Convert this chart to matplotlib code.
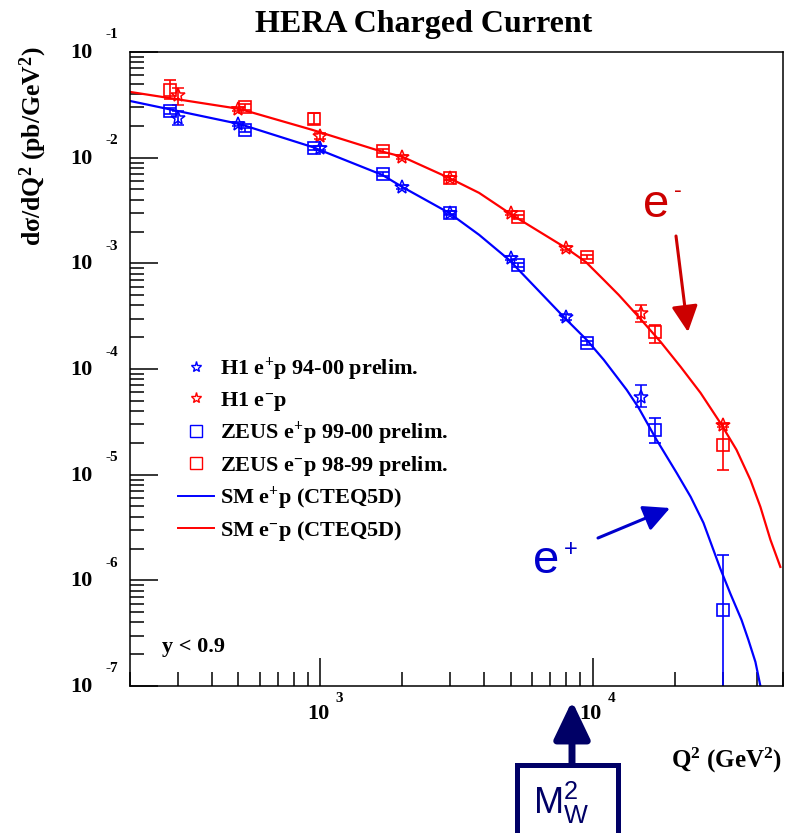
import numpy as np
import matplotlib
matplotlib.use('Agg')
import matplotlib.pyplot as plt
from matplotlib.lines import Line2D
from matplotlib.patches import Rectangle

plt.rcParams['mathtext.fontset'] = 'custom'
plt.rcParams['mathtext.rm'] = 'Liberation Serif:bold'
plt.rcParams['mathtext.it'] = 'Liberation Serif:bold'
plt.rcParams['mathtext.bf'] = 'Liberation Serif:bold'
plt.rcParams['mathtext.sf'] = 'Liberation Sans'

# SM predictions (CTEQ5D)
q2_sm_pos = [200, 506, 936, 1690, 2000, 2970, 3830, 4930, 7830, 9520, 10990, 13340,
             14760, 17180, 20340, 22900, 25520, 29430, 32060, 35200, 37300, 39600,
             41300, 42400]
sm_pos = [3.44e-2, 2.08e-2, 1.26e-2, 6.86e-3, 5.28e-3, 3.00e-3, 1.86e-3, 1.08e-3,
          3.11e-4, 1.88e-4, 1.22e-4, 6.34e-5, 4.28e-5, 2.13e-5, 1.04e-5, 6.17e-6,
          3.50e-6, 1.29e-6, 7.45e-7, 4.23e-7, 2.74e-7, 1.69e-7, 1.00e-7, 7.4e-8]

q2_sm_neg = [200, 506, 936, 1648, 2000, 2970, 3830, 5060, 7970, 9440, 10990, 12470,
             14760, 17780, 21030, 24900, 29430, 33740, 37960, 41300, 44960, 48890]
sm_neg = [4.19e-2, 2.89e-2, 1.83e-2, 1.16e-2, 1.02e-2, 6.43e-3, 4.64e-3, 2.87e-3,
          1.40e-3, 1.03e-3, 6.97e-4, 5.02e-4, 3.11e-4, 1.80e-4, 1.05e-4, 5.94e-5,
          3.09e-5, 1.72e-5, 8.93e-6, 4.96e-6, 2.42e-6, 1.34e-6]

# H1 e+p 94-00 prelim.
q2_h1_pos = [300, 500, 1000, 2000, 3000, 5000, 8000, 15000]
h1_pos = [2.38e-2, 2.08e-2, 1.24e-2, 5.28e-3, 3.0e-3, 1.12e-3, 3.11e-4, 5.44e-5]
h1_pos_lo = [2.04e-2, 2.0e-2, 1.19e-2, 5.1e-3, 2.9e-3, 1.07e-3, 2.9e-4, 4.38e-5]
h1_pos_hi = [2.77e-2, 2.16e-2, 1.29e-2, 5.46e-3, 3.1e-3, 1.17e-3, 3.3e-4, 7.08e-5]

# H1 e-p
q2_h1_neg = [300, 500, 1000, 2000, 3000, 5000, 8000, 15000, 30000]
h1_neg = [3.92e-2, 2.89e-2, 1.60e-2, 1.02e-2, 6.43e-3, 3.0e-3, 1.40e-3, 3.40e-4, 2.96e-5]
h1_neg_lo = [3.16e-2, 2.75e-2, 1.50e-2, 9.8e-3, 6.2e-3, 2.88e-3, 1.34e-3, 2.79e-4, 2.8e-5]
h1_neg_hi = [4.56e-2, 3.03e-2, 1.72e-2, 1.06e-2, 6.66e-3, 3.12e-3, 1.46e-3, 4.04e-4, 3.1e-5]

# ZEUS e+p 99-00 prelim.
q2_zeus_pos = [280, 530, 950, 1700, 3000, 5300, 9500, 17000, 30000]
zeus_pos = [2.77e-2, 1.83e-2, 1.24e-2, 7.0e-3, 3.0e-3, 9.66e-4, 1.77e-4, 2.65e-5, 5.26e-7]
zeus_pos_lo = [2.6e-2, 1.75e-2, 1.19e-2, 6.7e-3, 2.88e-3, 9.2e-4, 1.68e-4, 2.00e-5, 1e-9]
zeus_pos_hi = [2.95e-2, 1.91e-2, 1.29e-2, 7.3e-3, 3.12e-3, 1.01e-3, 1.86e-4, 3.44e-5, 1.74e-6]

# ZEUS e-p 98-99 prelim.
q2_zeus_neg = [280, 530, 950, 1700, 3000, 5300, 9500, 17000, 30000]
zeus_neg = [4.37e-2, 3.02e-2, 2.32e-2, 1.16e-2, 6.43e-3, 2.75e-3, 1.15e-3, 2.24e-4, 1.91e-5]
zeus_neg_lo = [3.6e-2, 2.85e-2, 2.1e-2, 1.11e-2, 6.15e-3, 2.62e-3, 1.09e-3, 1.77e-4, 1.11e-5]
zeus_neg_hi = [5.43e-2, 3.2e-2, 2.65e-2, 1.21e-2, 6.7e-3, 2.88e-3, 1.21e-3, 2.61e-4, 3.03e-5]

legend_labels = [r'H1 e$^{+}$p 94-00 prelim.', r'H1 e$^{-}$p',
                 r'ZEUS e$^{+}$p 99-00 prelim.', r'ZEUS e$^{-}$p 98-99 prelim.',
                 r'SM e$^{+}$p (CTEQ5D)', r'SM e$^{-}$p (CTEQ5D)']

blue = '#0000ff'
red = '#ff0000'
serif = 'Liberation Serif'
sans = 'Liberation Sans'

W, H = 785, 833
fig = plt.figure(figsize=(W / 100, H / 100), dpi=100)
ax = fig.add_axes([130 / W, 1 - 686 / H, 653 / W, 634 / H])
ax.set_xscale('log')
ax.set_yscale('log')
ax.set_xlim(200, 50000)
ax.set_ylim(1e-7, 1e-1)


def errs(v, lo, hi):
    v = np.array(v)
    return [v - np.array(lo), np.array(hi) - v]


ax.plot(q2_sm_pos, sm_pos, color=blue, lw=1.6)
ax.plot(q2_sm_neg, sm_neg, color=red, lw=1.6)

ekw = dict(linestyle='none', mfc='none', elinewidth=1.2, capsize=4, capthick=1.2)
ax.errorbar(q2_h1_pos, h1_pos, yerr=errs(h1_pos, h1_pos_lo, h1_pos_hi), marker='*',
            ms=10, color=blue, mew=1.1, **ekw)
ax.errorbar(q2_h1_neg, h1_neg, yerr=errs(h1_neg, h1_neg_lo, h1_neg_hi), marker='*',
            ms=10, color=red, mew=1.1, **ekw)
ax.errorbar(q2_zeus_pos, zeus_pos, yerr=errs(zeus_pos, zeus_pos_lo, zeus_pos_hi),
            marker='s', ms=9, color=blue, mew=1.2, **ekw)
ax.errorbar(q2_zeus_neg, zeus_neg, yerr=errs(zeus_neg, zeus_neg_lo, zeus_neg_hi),
            marker='s', ms=9, color=red, mew=1.2, **ekw)

# ticks, ROOT style
for s in ax.spines.values():
    s.set_linewidth(1.1)
ax.tick_params(which='major', direction='in', length=20, width=1.1,
               top=False, right=False, labelleft=False, labelbottom=False)
ax.tick_params(which='minor', direction='in', length=10, width=1.1,
               top=False, right=False, labelleft=False, labelbottom=False)
ax.yaxis.set_major_locator(matplotlib.ticker.LogLocator(base=10, numticks=20))
ax.yaxis.set_minor_locator(matplotlib.ticker.LogLocator(base=10, subs=np.arange(2, 10), numticks=20))

ytr = ax.get_yaxis_transform()
for e in range(-7, 0):
    ax.annotate('10', xy=(0, 10.0 ** e), xycoords=ytr, xytext=(-37, -1),
                textcoords='offset pixels', ha='right', va='center',
                fontsize=16, fontweight='bold', family=serif)
    ax.annotate(str(e), xy=(0, 10.0 ** e), xycoords=ytr, xytext=(-25, 17),
                textcoords='offset pixels', ha='left', va='center',
                fontsize=11, fontweight='bold', family=serif)
xtr = ax.get_xaxis_transform()
for e in [3, 4]:
    ax.annotate('10', xy=(10.0 ** e, 0), xycoords=xtr, xytext=(-2, -28),
                textcoords='offset pixels', ha='center', va='center',
                fontsize=16, fontweight='bold', family=serif)
    ax.annotate(str(e), xy=(10.0 ** e, 0), xycoords=xtr, xytext=(15, -12),
                textcoords='offset pixels', ha='left', va='center',
                fontsize=11, fontweight='bold', family=serif)

fig.text(424 / W, 1 - 32 / H, 'HERA Charged Current', ha='center', va='baseline',
         fontsize=23, fontweight='bold', family=serif)
fig.text(33 / W, 1 - 46 / H, r'd$\sigma$/dQ$^{2}$ (pb/GeV$^{2}$)', rotation=90,
         ha='center', va='top', fontsize=18.5, fontweight='bold', family=serif)
fig.text(782 / W, 1 - 760 / H, r'Q$^{2}$ (GeV$^{2}$)', ha='right', va='center',
         fontsize=18, fontweight='bold', family=serif)
fig.text(162 / W, 1 - 647 / H, 'y < 0.9', ha='left', va='center',
         fontsize=16, fontweight='bold', family=serif)

handles = [Line2D([], [], ls='none', marker='*', ms=8, mfc='none', color=blue),
           Line2D([], [], ls='none', marker='*', ms=8, mfc='none', color=red),
           Line2D([], [], ls='none', marker='s', ms=9, mfc='none', color=blue),
           Line2D([], [], ls='none', marker='s', ms=9, mfc='none', color=red),
           Line2D([], [], color=blue, lw=1.4),
           Line2D([], [], color=red, lw=1.4)]
ax.legend(handles, legend_labels, loc='upper left', bbox_to_anchor=(0.0738, 0.521),
          frameon=False, borderpad=0, borderaxespad=0, handlelength=1.6,
          handletextpad=0.28, labelspacing=0.30,
          prop={'family': serif, 'weight': 'bold', 'size': 16})

# annotations
ered = '#cc0000'
eblue = '#0000cc'
fig.text(643 / W, 1 - 217 / H, 'e', color=ered, fontsize=34, family=sans,
         ha='left', va='baseline')
fig.text(678 / W, 1 - 191 / H, '-', color=ered, fontsize=17, family=sans,
         ha='center', va='center')
fig.text(533 / W, 1 - 573 / H, 'e', color=eblue, fontsize=34, family=sans,
         ha='left', va='baseline')
fig.text(571 / W, 1 - 550 / H, '+', color=eblue, fontsize=17, family=sans,
         ha='center', va='center')
ax.annotate('', xy=(688, H - 332), xycoords='figure pixels', xytext=(676, H - 236),
            textcoords='figure pixels',
            arrowprops=dict(arrowstyle='-|>,head_length=0.8,head_width=0.4',
                            mutation_scale=20, lw=2.2, color=ered,
                            shrinkA=0, shrinkB=0))
ax.annotate('', xy=(670, H - 508), xycoords='figure pixels', xytext=(598, H - 538),
            textcoords='figure pixels',
            arrowprops=dict(arrowstyle='-|>,head_length=0.8,head_width=0.4',
                            mutation_scale=20, lw=2.2, color=eblue,
                            shrinkA=0, shrinkB=0))

navy = '#000066'
ax.annotate('', xy=(572, H - 701), xycoords='figure pixels', xytext=(572, H - 763),
            textcoords='figure pixels',
            arrowprops=dict(arrowstyle='-|>,head_length=1.15,head_width=0.55',
                            mutation_scale=20, lw=5, color=navy,
                            shrinkA=0, shrinkB=0))
box = Rectangle((517 / W, -20 / H), 101 / W, (H - 765 + 20) / H,
                transform=fig.transFigure, facecolor='white', edgecolor=navy,
                lw=3.6, zorder=5)
fig.add_artist(box)
fig.text(561 / W, 1 - 803 / H, r'$\mathsf{M_W^2}$', color=navy, fontsize=26,
         ha='center', va='center', zorder=6)

fig.savefig('out.png', dpi=100)
